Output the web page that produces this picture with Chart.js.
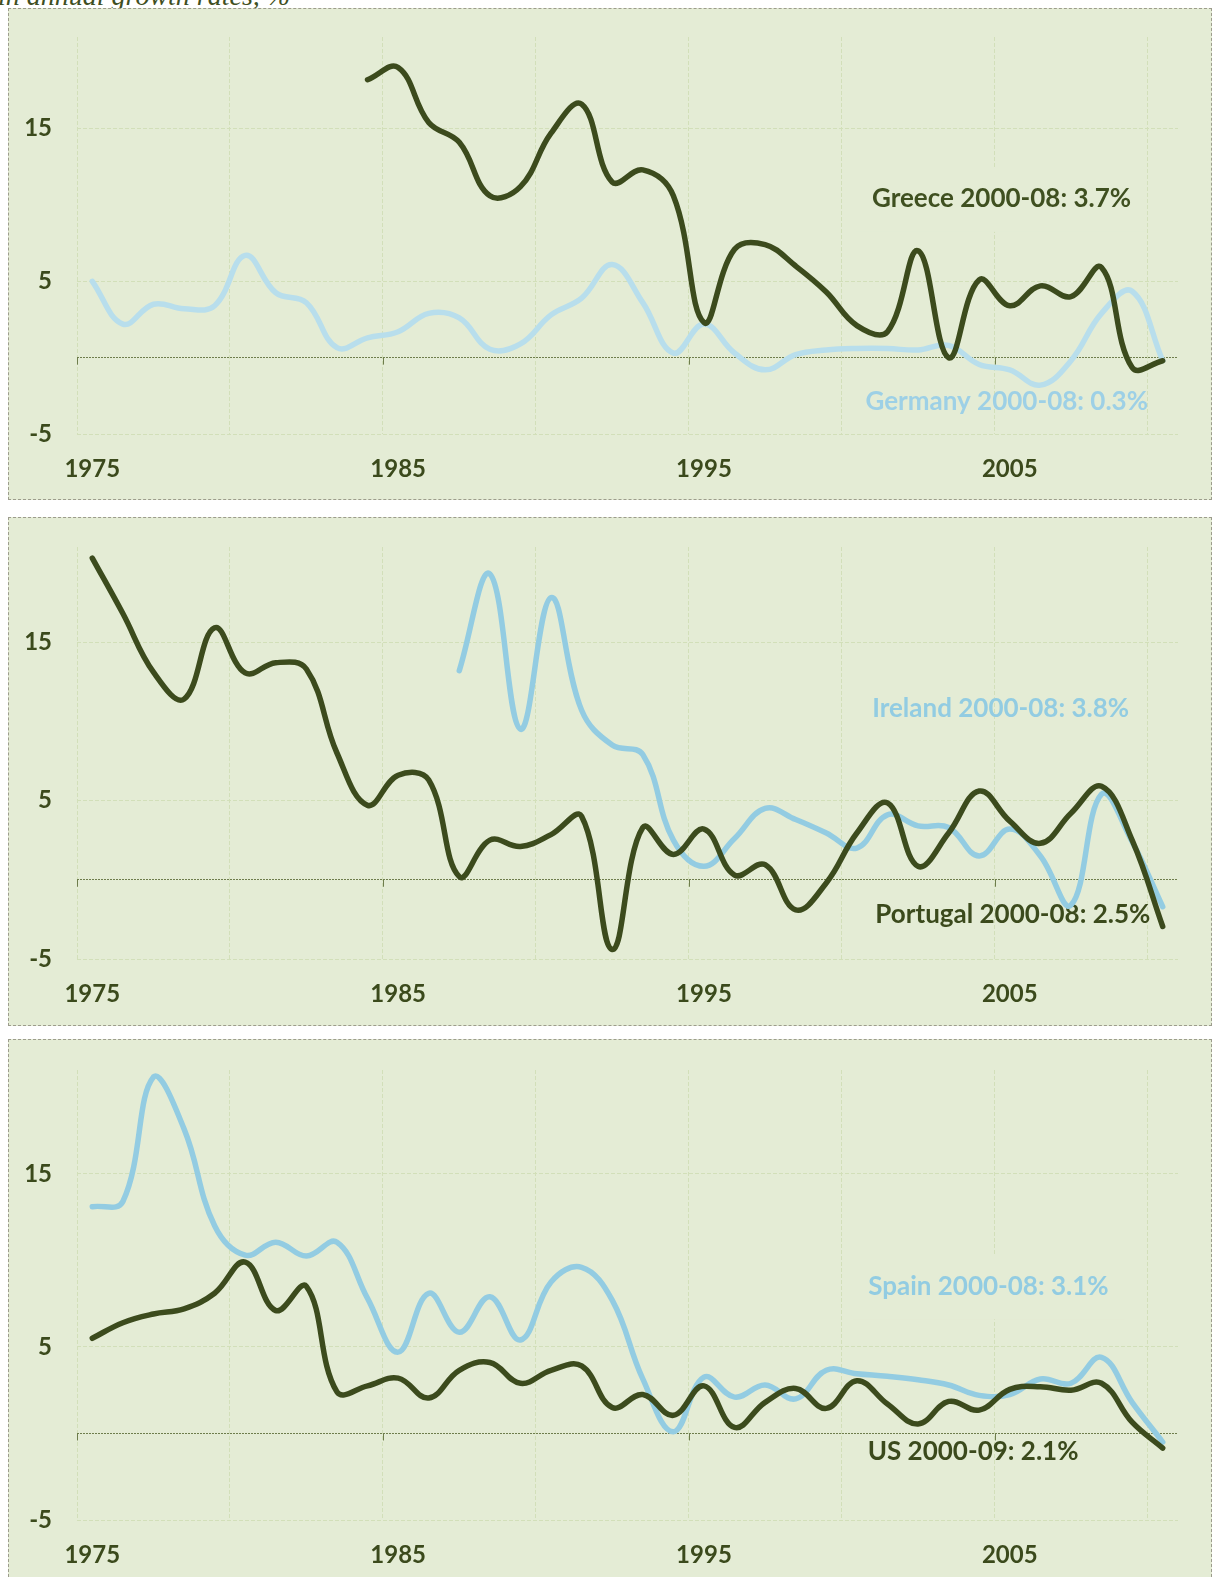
<!DOCTYPE html>
<html>
<head>
<meta charset="utf-8">
<title>Growth rates</title>
<script src="https://cdn.jsdelivr.net/npm/chart.js@4/dist/chart.umd.min.js"></script>
<style>
  html, body { margin: 0; padding: 0; background: #ffffff; }
  body { width: 1214px; height: 1577px; overflow: hidden; position: relative; }
  .caption {
    position: absolute; left: -2px; top: -18px;
    font: italic 28px/28px "Liberation Serif", "DejaVu Serif", serif;
    color: #3f4f22; white-space: nowrap;
  }
  .panel {
    position: absolute; left: 8px; width: 1204px;
    box-sizing: border-box; border: 1px dashed #9c9c8c; background: #e4ecd5;
  }
  .panel canvas { display: block; }
</style>
</head>
<body>
<div class="caption">in annual growth rates, %</div>
<div class="panel" style="top:8px;height:492px"><canvas id="chart-1" width="1202" height="490"></canvas></div>
<div class="panel" style="top:517px;height:509px"><canvas id="chart-2" width="1202" height="507"></canvas></div>
<div class="panel" style="top:1039px;height:548px"><canvas id="chart-3" width="1202" height="546"></canvas></div>

<script>
'use strict';

// años (categorías)
const years = [
  '1975', '1976', '1977', '1978', '1979', '1980', '1981', '1982', '1983',
  '1984', '1985', '1986', '1987', '1988', '1989', '1990', '1991', '1992',
  '1993', '1994', '1995', '1996', '1997', '1998', '1999', '2000', '2001',
  '2002', '2003', '2004', '2005', '2006', '2007', '2008', '2009', '2010'
];
const yearTickLabels = ['1975', '1985', '1995', '2005'];
const valueTicks = [-5, 5, 15];

// panel 1
const greece = [
  null, null, null, null, null, null, null, null, null,
  18.2, 19.0, 15.4, 14.1, 10.6, 11.2, 14.7, 16.6, 11.5,
  12.3, 10.6, 2.3, 7.1, 7.4, 6.0, 4.3, 2.1, 1.7,
  7.0, 0.0, 5.1, 3.4, 4.7, 4.0, 5.9, -0.65, -0.2
];
const germany = [
  5.0, 2.2, 3.5, 3.2, 3.4, 6.7, 4.25, 3.6, 0.65,
  1.3, 1.7, 2.9, 2.6, 0.55, 0.9, 2.8, 3.9, 6.1,
  3.6, 0.3, 2.2, 0.3, -0.8, 0.2, 0.5, 0.6, 0.6,
  0.5, 0.8, -0.45, -0.8, -1.8, -0.2, 2.9, 4.35, -0.2
];

// panel 2
const portugal = [
  20.3, 16.8, 13.1, 11.4, 15.9, 13.05, 13.7, 13.3, 8.0,
  4.7, 6.6, 6.3, 0.2, 2.5, 2.1, 2.85, 4.0, -4.4,
  3.3, 1.6, 3.2, 0.3, 0.95, -1.9, -0.2, 2.95, 4.85,
  0.85, 2.95, 5.6, 3.7, 2.3, 4.2, 5.9, 2.5, -2.95
];
const ireland = [
  null, null, null, null, null, null, null, null, null,
  null, null, null, 13.2, 19.3, 9.5, 17.8, 10.7, 8.5,
  7.9, 2.5, 0.85, 2.6, 4.5, 3.8, 2.95, 2.0, 4.1,
  3.4, 3.3, 1.5, 3.2, 1.5, -1.6, 5.4, 2.4, -1.7
];

// panel 3
const us = [
  5.5, 6.4, 6.9, 7.2, 8.1, 9.9, 7.1, 8.5, 2.4,
  2.75, 3.2, 2.05, 3.65, 4.1, 2.9, 3.65, 3.9, 1.5,
  2.25, 1.05, 2.75, 0.35, 1.8, 2.6, 1.45, 3.05, 1.7,
  0.55, 1.85, 1.35, 2.55, 2.7, 2.5, 2.9, 0.65, -0.85
];
const spain = [
  13.1, 13.4, 20.6, 17.6, 12.0, 10.3, 11.05, 10.25, 11.05,
  7.8, 4.7, 8.1, 5.85, 7.9, 5.4, 8.75, 9.6, 7.7,
  3.15, 0.1, 3.25, 2.1, 2.8, 2.0, 3.65, 3.45, 3.3,
  3.1, 2.8, 2.2, 2.25, 3.15, 2.9, 4.4, 1.8, -0.5
];

const COLOR_DARK = '#3c4b1d';
const COLOR_LIGHT = '#93cce2';
const COLOR_LIGHT_DE = '#b8deec';
const COLOR_TEXT = '#3b4a1c';
const COLOR_BG = '#e4ecd5';
const COLOR_GRID = '#d2dfb9';
const COLOR_ZERO = '#6e7d4c';
const FONT = 'Lato, "Open Sans", sans-serif';

// textos sobre el gráfico, en unidades de los ejes
const pluginNotas = {
  id: 'notas',
  beforeDatasetsDraw(chart, args, opts) {
    const ctx = chart.ctx;
    const sx = chart.scales.x;
    const sy = chart.scales.y;

    // marcas en la línea de cero
    const y0 = sy.getPixelForValue(0);
    ctx.save();
    ctx.strokeStyle = COLOR_ZERO;
    ctx.lineWidth = 1;
    years.forEach(function (y, i) {
      if (yearTickLabels.indexOf(y) < 0) return;
      const x = Math.round(sx.getPixelForValue(i - 0.5)) + 0.5;
      ctx.beginPath();
      ctx.moveTo(x, y0);
      ctx.lineTo(x, y0 + 7);
      ctx.stroke();
    });
    ctx.restore();

    (opts.items || []).forEach(function (n) {
      const x = sx.getPixelForValue(n.x);
      const y = sy.getPixelForValue(n.y);
      ctx.save();
      ctx.font = 'bold ' + n.size + 'px ' + FONT;
      const w = ctx.measureText(n.text).width;
      if (n.box) {
        ctx.fillStyle = COLOR_BG;
        ctx.fillRect(x - w / 2 - 16, y - 31, w + 32, 64);
      }
      ctx.fillStyle = n.color;
      ctx.textAlign = 'center';
      ctx.textBaseline = 'middle';
      ctx.fillText(n.text, x, y);
      ctx.restore();
    });
  }
};

function serie(data, color) {
  return {
    data: data,
    borderColor: color,
    backgroundColor: color,
    borderWidth: 5.5,
    tension: 0.4,
    borderCapStyle: 'round',
    borderJoinStyle: 'round',
    pointRadius: 0,
    spanGaps: false,
    fill: false
  };
}

function crearPanel(canvasId, datasets, notas, padTop, altoEje) {
  const canvas = document.getElementById(canvasId);
  return new Chart(canvas.getContext('2d'), {
    type: 'line',
    data: { labels: years, datasets: datasets },
    plugins: [pluginNotas],
    options: {
      responsive: false,
      animation: false,
      layout: { padding: { top: padTop, right: 33, left: 0, bottom: 0 } },
      plugins: {
        legend: { display: false },
        tooltip: { enabled: false },
        notas: { items: notas }
      },
      scales: {
        x: {
          type: 'category',
          offset: true,
          afterFit: function (s) {
            s.height = altoEje;
            s.paddingLeft = 0;
            s.paddingRight = 0;
          },
          border: { display: false, dash: [4, 2] },
          grid: {
            offset: true,
            drawTicks: false,
            lineWidth: 1,
            color: function (c) {
              if (c.type !== 'tick') return 'rgba(0,0,0,0)';
              return c.index % 5 === 0 ? COLOR_GRID : 'rgba(0,0,0,0)';
            }
          },
          ticks: {
            autoSkip: false,
            maxRotation: 0,
            padding: 21,
            color: COLOR_TEXT,
            font: { family: FONT, size: 24, weight: 'bold', lineHeight: 1.2 },
            callback: function (v, i) {
              return yearTickLabels.indexOf(years[i]) >= 0 ? years[i] : '';
            }
          }
        },
        y: {
          min: -5,
          max: 21,
          afterFit: function (s) {
            s.width = 68;
            s.paddingTop = 0;
            s.paddingBottom = 0;
          },
          afterBuildTicks: function (s) {
            s.ticks = valueTicks.concat([0]).sort(function (a, b) { return a - b; })
              .map(function (v) { return { value: v }; });
          },
          border: {
            display: false,
            dash: function (c) {
              return c.tick && c.tick.value === 0 ? [2, 1] : [4, 2];
            }
          },
          grid: {
            drawTicks: false,
            lineWidth: 1,
            color: function (c) {
              if (!c.tick) return 'rgba(0,0,0,0)';
              return c.tick.value === 0 ? COLOR_ZERO : COLOR_GRID;
            }
          },
          ticks: {
            padding: 25,
            color: COLOR_TEXT,
            font: { family: FONT, size: 24, weight: 'bold' },
            callback: function (v) {
              return valueTicks.indexOf(v) >= 0 ? String(v) : '';
            }
          }
        }
      }
    }
  });
}

crearPanel('chart-1',
  [serie(greece, COLOR_DARK), serie(germany, COLOR_LIGHT_DE)],
  [
    { text: 'Greece 2000-08: 3.7%', x: 29.73, y: 10.4, color: '#3f5020', size: 26, box: true },
    { text: 'Germany 2000-08: 0.3%', x: 29.9, y: -2.9, color: '#9dd0e6', size: 26, box: false }
  ], 28, 65);

crearPanel('chart-2',
  [serie(portugal, COLOR_DARK), serie(ireland, COLOR_LIGHT)],
  [
    { text: 'Ireland 2000-08: 3.8%', x: 29.7, y: 10.8, color: '#92cce2', size: 26, box: false },
    { text: 'Portugal 2000-08: 2.5%', x: 30.1, y: -2.2, color: COLOR_TEXT, size: 26, box: false }
  ], 29, 66);

crearPanel('chart-3',
  [serie(us, COLOR_DARK), serie(spain, COLOR_LIGHT)],
  [
    { text: 'Spain 2000-08: 3.1%', x: 29.3, y: 8.5, color: '#92cce2', size: 26, box: true },
    { text: 'US 2000-09: 2.1%', x: 28.8, y: -1.07, color: COLOR_TEXT, size: 26, box: false }
  ], 30, 66);
</script>
</body>
</html>
